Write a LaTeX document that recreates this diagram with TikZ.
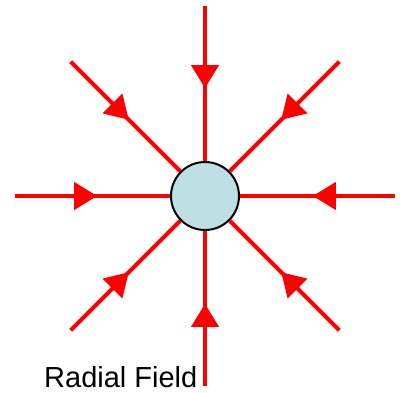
\documentclass[tikz,border=0pt]{standalone}
\usepackage{fontspec}
\setmainfont{Liberation Sans}
\usepackage{xcolor}
\usetikzlibrary{arrows.meta,decorations.markings,calc}
\definecolor{chargeblue}{RGB}{190,224,228}

\begin{document}
\begin{tikzpicture}[x=1pt,y=-1pt,
field/.style={red,line width=4pt,postaction={decorate},
decoration={markings,mark=at position 0.53 with {\arrow{Triangle[length=23pt,width=27pt]}}}}]
\useasboundingbox (0,0) rectangle (404,393);
\node[circle,draw,line width=2pt,fill=chargeblue,minimum size=68pt,inner sep=0pt](charge)at(205,196){};
\foreach \a in {0,45,...,315}{
\coordinate (end\a) at ($(charge.center)+(\a:190)$);
\draw[field](end\a)--(charge);}
\node[anchor=base west,font=\fontsize{29}{34}\selectfont,inner sep=0pt](label)at(44,387){Radial Field};
\end{tikzpicture}
\end{document}
